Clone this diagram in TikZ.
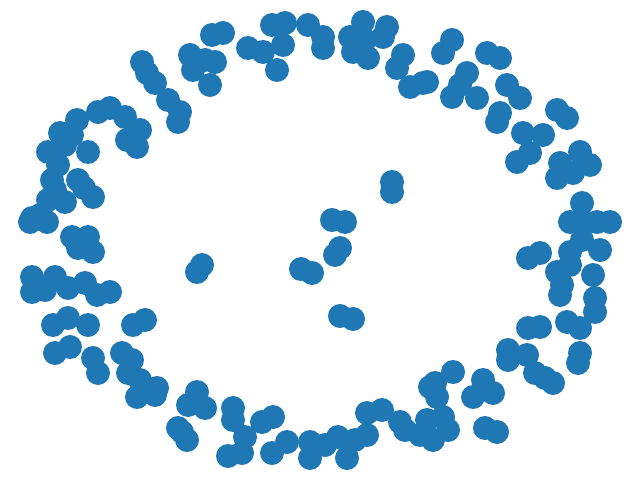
\documentclass[tikz,border=0pt]{standalone}
\definecolor{nodeblue}{RGB}{31,119,180}
\begin{document}
\begin{tikzpicture}[x=0.03cm,y=-0.03cm,
  dot/.style={circle,fill=nodeblue,draw=none,inner sep=0pt,minimum size=0.72cm}]
\useasboundingbox (0,0) rectangle (640,480);
\foreach \x/\y [count=\i] in {
142/62,147/73,155/83,168/100,180/112,178/122,190/55,193/70,212/35,210/85,205/60,215/62,
98/112,110/108,125/117,140/130,137/147,127/140,77/120,60/133,48/152,88/152,72/135,65/145,
52/180,78/180,93/197,48/200,65/202,32/218,47/222,72/237,88/237,30/222,40/215,
58/165,55/190,84/188,
223/33,248/48,263/52,277/70,272/25,285/23,283/45,308/25,323/37,323/48,363/22,350/37,353/52,
368/58,383/37,387/27,403/55,397/68,410/87,423/83,365/40,
452/40,443/53,487/53,500/58,427/82,467/73,452/97,477/98,507/85,520/98,497/122,500/113,
557/110,567/118,523/133,543/135,517/162,530/153,560/163,580/152,590/165,557/178,573/173,
582/203,570/222,585/223,610/222,460/85,597/222,
528/258,540/253,570/252,600/250,593/275,557/272,560/295,595/298,595/312,567/322,580/328,
528/328,540/327,508/350,508/360,527/355,535/373,553/383,580/353,578/363,453/372,435/383,
437/397,483/380,493/393,473/397,427/420,443/417,448/430,433/440,485/428,497/432,582/240,
570/265,545/378,562/285,
233/408,233/420,273/417,262/422,245/437,228/456,242/453,272/453,287/442,310/442,310/458,
338/437,347/458,367/413,382/410,367/435,400/422,420/435,430/387,355/440,405/430,325/445,
78/248,93/252,197/272,202/265,32/277,32/292,55/277,68/288,85/283,97/295,110/292,53/325,
68/318,88/325,55/353,70/347,133/325,145/320,93/358,98/373,122/353,132/360,128/373,157/388,
137/397,197/392,205/408,188/405,182/432,187/440,45/290,155/395,140/380,178/428,
392/182,392/192,332/220,345/222,335/255,340/248,301/269,312/273,340/316,353/319}
  \node[dot] (n\i) at (\x,\y) {};
\end{tikzpicture}
\end{document}
